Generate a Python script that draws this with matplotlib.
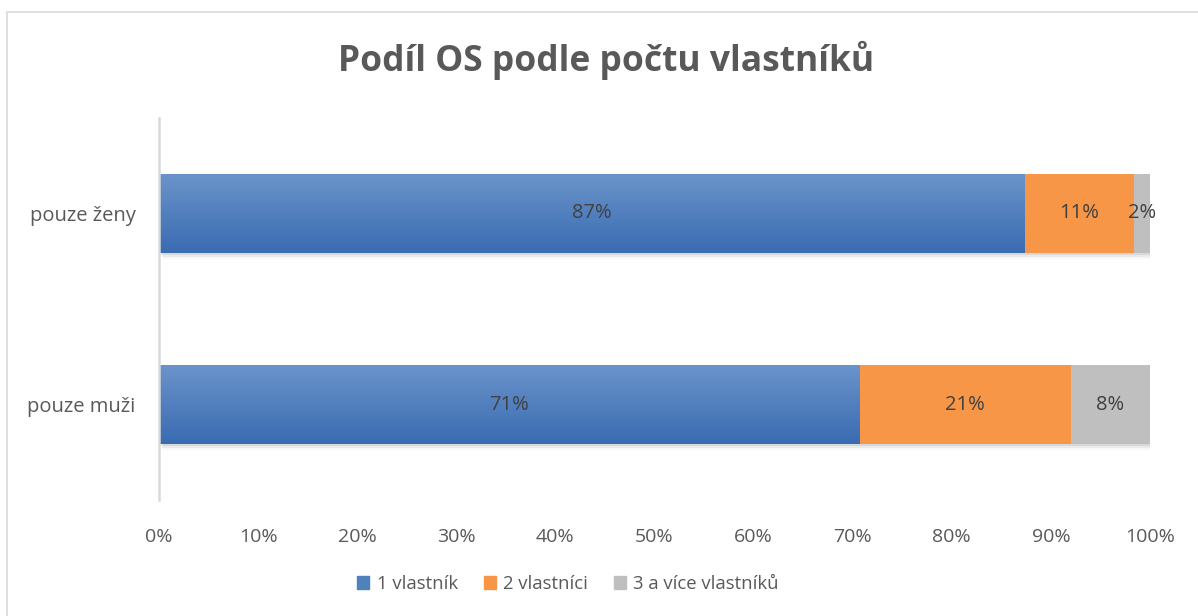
import numpy as np
import matplotlib
matplotlib.use("Agg")
import matplotlib.pyplot as plt
import matplotlib.patheffects as pe
from matplotlib.colors import LinearSegmentedColormap
from matplotlib.patches import Rectangle

plt.rcParams['font.family'] = ['Open Sans', 'DejaVu Sans']

# data
categories = ["pouze muži", "pouze ženy"]
series_names = ["1 vlastník", "2 vlastníci", "3 a více vlastníků"]
one_owner = [70.7, 87.3]
two_owners = [21.3, 11.1]
three_plus = [8.0, 1.6]
labels_one = ["71%", "87%"]
labels_two = ["21%", "11%"]
labels_three = ["8%", "2%"]

colors = ["#4F81BD", "#F79646", "#BFBFBF"]
W, H = 1198, 616

fig = plt.figure(figsize=(W / 100, H / 100), dpi=100)
ax = fig.add_axes([159 / W, (H - 500) / H, (1150 - 159) / W, (500 - 118) / H])

# chart border (only top and left visible in the crop)
fig.add_artist(Rectangle((7 / W, -0.1), 1.2, (H - 12) / H + 0.1, transform=fig.transFigure,
                         fill=False, edgecolor="#D9D9D9", linewidth=1.2))

y = np.arange(len(categories))
h = 0.41
# soft drop shadow, built from a few faint offset copies
shadow = [pe.SimplePatchShadow(offset=(1, -1.5), shadow_rgbFace="k", alpha=0.08),
          pe.SimplePatchShadow(offset=(2, -3), shadow_rgbFace="k", alpha=0.05),
          pe.SimplePatchShadow(offset=(3, -4.5), shadow_rgbFace="k", alpha=0.03),
          pe.Normal()]

left = np.zeros(len(categories))
all_bars = []
for vals, col in zip([one_owner, two_owners, three_plus], colors):
    bars = ax.barh(y, vals, left=left, height=h, color=col, edgecolor="none",
                   path_effects=shadow, zorder=2)
    all_bars.append(bars)
    left = left + np.array(vals)

# gradient fill on the blue bars
grad = LinearSegmentedColormap.from_list("g", ["#3A6CB2", "#6A93CA"])
for b in all_bars[0]:
    x0, y0 = b.get_x(), b.get_y()
    im = ax.imshow(np.linspace(0, 1, 100).reshape(-1, 1), cmap=grad, aspect="auto",
                   origin="lower", extent=[x0, x0 + b.get_width(), y0, y0 + b.get_height()],
                   zorder=2.5)
    im.set_clip_path(b)

for bars, labs in zip(all_bars, [labels_one, labels_two, labels_three]):
    ax.bar_label(bars, labels=labs, label_type="center", color="#404040", fontsize=14.5, zorder=4)

ax.set_xlim(0, 100)
ax.set_ylim(-0.5, 1.5)
ax.set_xticks(np.arange(0, 101, 10))
ax.set_xticklabels([f"{v}%" for v in range(0, 101, 10)])
ax.set_yticks(y)
ax.set_yticklabels(categories)
ax.tick_params(axis="x", length=0, pad=20, labelsize=14, labelcolor="#595959")
ax.tick_params(axis="y", length=0, pad=17, labelsize=14.5, labelcolor="#595959")
for s in ["top", "right", "bottom"]:
    ax.spines[s].set_visible(False)
ax.spines["left"].set_color("#D9D9D9")
ax.spines["left"].set_linewidth(1.8)

fig.text(606 / W, 1 - 60 / H, "Podíl OS podle počtu vlastníků", ha="center", va="center",
         fontsize=25.5, fontweight="bold", color="#595959")

handles = [Rectangle((0, 0), 1, 1, color=c) for c in colors]
fig.legend(handles, series_names, loc="center", bbox_to_anchor=(568 / W, 1 - 584 / H), ncol=3,
           frameon=False, fontsize=13.3, labelcolor="#595959", handlelength=0.65, handleheight=0.65,
           handletextpad=0.4, columnspacing=1.4)

fig.savefig("out.png", dpi=100)
